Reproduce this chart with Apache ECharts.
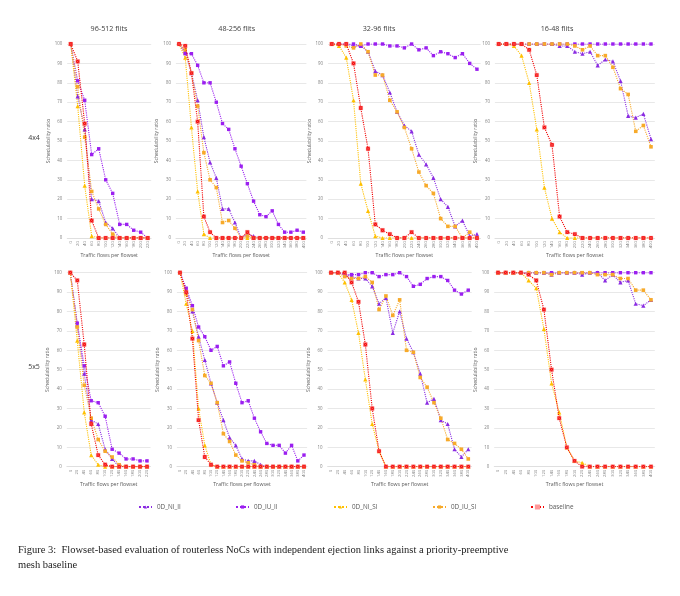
<!DOCTYPE html>
<html>
<head>
<meta charset="utf-8">
<script src="https://cdn.jsdelivr.net/npm/echarts@6/dist/echarts.min.js"></script>
<style>
  html, body { margin: 0; padding: 0; background: #fff; }
  #chart { width: 680px; height: 596px; }
</style>
</head>
<body>
<div id="chart"></div>
<script>
// --- x categories (traffic flows per flowset) ---
var flowsShort = ['0', '20', '40', '60', '80', '100', '120', '140', '160', '180', '200', '220'];
var flowsLong = ['0', '20', '40', '60', '80', '100', '120', '140', '160', '180', '200',
                 '220', '240', '260', '280', '300', '320', '340', '360', '380', '400'];

var seriesNames = ['0D_NI_II', '0D_IU_II', '0D_NI_SI', '0D_IU_SI', 'baseline'];
var colTitles = ['96-512 flits', '48-256 flits', '32-96 flits', '16-48 flits'];
var rowTitles = ['4x4', '5x5'];

// --- 4x4, 96-512 flits ---
var a1NiII = [100, 73, 56, 20, 19, 8, 5, 0, 0, 0, 0, 0];
var a1IuII = [100, 81, 71, 43, 46, 30, 23, 7, 7, 4, 3, 0];
var a1NiSI = [100, 68, 27, 1, 0, 0, 0, 0, 0, 0, 0, 0];
var a1IuSI = [100, 78, 52, 24, 15, 7, 2, 0, 0, 0, 0, 0];
var a1Base = [100, 91, 59, 9, 0, 0, 0, 0, 0, 0, 0, 0];

// --- 4x4, 48-256 flits ---
var a2NiII = [100, 96, 85, 71, 52, 39, 31, 15, 15, 8, 0, 2, 1, 0, 0, 0, 0, 0, 0, 0, 0];
var a2IuII = [100, 95, 95, 89, 80, 80, 70, 59, 56, 46, 37, 28, 19, 12, 11, 14, 7, 3, 3, 4, 3];
var a2NiSI = [100, 93, 57, 24, 2, 0, 0, 0, 0, 0, 0, 0, 0, 0, 0, 0, 0, 0, 0, 0, 0];
var a2IuSI = [100, 97, 85, 68, 44, 30, 26, 8, 9, 5, 0, 1, 0, 0, 0, 0, 0, 0, 0, 0, 0];
var a2Base = [100, 99, 85, 60, 11, 3, 0, 0, 0, 0, 0, 3, 0, 0, 0, 0, 0, 0, 0, 0, 0];

// --- 4x4, 32-96 flits ---
var a3NiII = [100, 100, 100, 99, 99, 96, 86, 84, 75, 65, 58, 55, 43, 38, 31, 20, 16, 6, 9, 1, 2];
var a3IuII = [100, 100, 100, 100, 99, 100, 100, 100, 99, 99, 98, 100, 97, 98, 94, 96, 95, 93, 95, 90, 87];
var a3NiSI = [100, 99, 93, 71, 28, 14, 1, 0, 0, 0, 0, 0, 0, 0, 0, 0, 0, 0, 0, 0, 0];
var a3IuSI = [100, 100, 99, 98, 100, 96, 84, 84, 71, 65, 57, 46, 34, 27, 23, 10, 6, 6, 0, 3, 0];
var a3Base = [100, 100, 100, 90, 67, 46, 7, 4, 2, 0, 0, 3, 0, 0, 0, 0, 0, 0, 0, 0, 0];

// --- 4x4, 16-48 flits ---
var a4NiII = [100, 100, 100, 100, 100, 100, 100, 100, 99, 99, 96, 95, 96, 89, 92, 91, 81, 63, 62, 64, 51];
var a4IuII = [100, 100, 100, 100, 100, 100, 100, 100, 100, 100, 100, 100, 100, 100, 100, 100, 100, 100, 100, 100, 100];
var a4NiSI = [100, 100, 99, 94, 80, 56, 26, 10, 3, 0, 0, 0, 0, 0, 0, 0, 0, 0, 0, 0, 0];
var a4IuSI = [100, 100, 100, 100, 100, 100, 100, 100, 100, 100, 99, 97, 99, 94, 94, 88, 77, 74, 55, 58, 47];
var a4Base = [100, 100, 100, 100, 97, 84, 57, 48, 11, 3, 2, 0, 0, 0, 0, 0, 0, 0, 0, 0, 0];

// --- 5x5, 96-512 flits ---
var b1NiII = [100, 73, 48, 24, 22, 9, 4, 0, 0, 0, 0, 0];
var b1IuII = [100, 74, 52, 34, 33, 26, 9, 7, 4, 4, 3, 3];
var b1NiSI = [100, 65, 28, 6, 1, 0, 0, 0, 0, 0, 0, 0];
var b1IuSI = [100, 72, 42, 25, 14, 8, 5, 1, 0, 0, 0, 0];
var b1Base = [100, 96, 63, 22, 6, 1, 0, 0, 0, 0, 0, 0];

// --- 5x5, 48-256 flits ---
var b2NiII = [100, 91, 80, 67, 55, 43, 33, 24, 15, 11, 4, 3, 3, 1, 0, 0, 0, 0, 0, 0, 0];
var b2IuII = [100, 92, 83, 72, 67, 60, 62, 52, 54, 43, 33, 34, 25, 18, 12, 11, 11, 7, 11, 3, 6];
var b2NiSI = [100, 84, 70, 30, 11, 1, 0, 0, 0, 0, 0, 0, 0, 0, 0, 0, 0, 0, 0, 0, 0];
var b2IuSI = [100, 89, 81, 65, 47, 43, 33, 17, 13, 6, 3, 2, 1, 0, 0, 0, 0, 0, 0, 0, 0];
var b2Base = [100, 90, 66, 24, 5, 1, 0, 0, 0, 0, 0, 0, 0, 0, 0, 0, 0, 0, 0, 0, 0];

// --- 5x5, 32-96 flits ---
var b3NiII = [100, 100, 99, 98, 97, 97, 93, 84, 87, 69, 80, 66, 59, 48, 33, 35, 24, 22, 9, 5, 9];
var b3IuII = [100, 100, 99, 99, 99, 100, 100, 98, 99, 99, 100, 98, 93, 94, 97, 98, 98, 96, 91, 89, 91];
var b3NiSI = [100, 100, 95, 86, 69, 45, 22, 8, 0, 0, 0, 0, 0, 0, 0, 0, 0, 0, 0, 0, 0];
var b3IuSI = [100, 100, 98, 97, 97, 98, 95, 81, 88, 78, 86, 60, 59, 46, 41, 33, 25, 14, 12, 9, 4];
var b3Base = [100, 100, 100, 95, 85, 63, 30, 8, 0, 0, 0, 0, 0, 0, 0, 0, 0, 0, 0, 0, 0];

// --- 5x5, 16-48 flits ---
var b4NiII = [100, 100, 100, 100, 100, 100, 100, 99, 100, 100, 100, 99, 100, 100, 96, 99, 95, 96, 84, 83, 86];
var b4IuII = [100, 100, 100, 100, 100, 100, 100, 100, 100, 100, 100, 100, 100, 100, 100, 100, 100, 100, 100, 100, 100];
var b4NiSI = [100, 100, 100, 100, 96, 92, 71, 43, 28, 10, 3, 2, 0, 0, 0, 0, 0, 0, 0, 0, 0];
var b4IuSI = [100, 100, 100, 100, 100, 100, 100, 99, 100, 100, 100, 100, 100, 99, 99, 99, 97, 97, 91, 91, 86];
var b4Base = [100, 100, 100, 100, 99, 96, 81, 50, 25, 10, 3, 0, 0, 0, 0, 0, 0, 0, 0, 0, 0];

var panels = [
  { cats: flowsShort, lines: [a1NiII, a1IuII, a1NiSI, a1IuSI, a1Base] },
  { cats: flowsLong,  lines: [a2NiII, a2IuII, a2NiSI, a2IuSI, a2Base] },
  { cats: flowsLong,  lines: [a3NiII, a3IuII, a3NiSI, a3IuSI, a3Base] },
  { cats: flowsLong,  lines: [a4NiII, a4IuII, a4NiSI, a4IuSI, a4Base] },
  { cats: flowsShort, lines: [b1NiII, b1IuII, b1NiSI, b1IuSI, b1Base] },
  { cats: flowsLong,  lines: [b2NiII, b2IuII, b2NiSI, b2IuSI, b2Base] },
  { cats: flowsLong,  lines: [b3NiII, b3IuII, b3NiSI, b3IuSI, b3Base] },
  { cats: flowsLong,  lines: [b4NiII, b4IuII, b4NiSI, b4IuSI, b4Base] }
];

// grid boxes, px: left, top, width
var boxes = [
  [67.2, 44, 84], [175.9, 44, 130.5], [328.1, 44, 152.5], [494.9, 44, 159.9],
  [66.8, 272.7, 83.7], [176.9, 272.7, 130.2], [327.6, 272.7, 144.1], [494.2, 272.7, 160.6]
];
var boxH = 194;

var crossBox = 'path://M0,0H10V10H0Z M1.5,1.5L8.5,8.5 M8.5,1.5L1.5,8.5';
var looks = [
  { color: '#8a2be2', symbol: 'triangle', size: 4.2 },
  { color: '#9b1ff0', symbol: 'rect', size: 3.4 },
  { color: '#ffc000', symbol: 'triangle', size: 4.2 },
  { color: '#f7aa2a', symbol: 'rect', size: 3.6 },
  { color: '#f20000', symbol: crossBox, size: 3.8 }
];

var font = '"Open Sans", "Liberation Sans", sans-serif';
var labelGrey = '#7f7f7f';
var gridGrey = '#d9d9d9';

var grids = [], xAxes = [], yAxes = [], series = [];
panels.forEach(function(p, i) {
  var b = boxes[i];
  grids.push({ left: b[0], top: b[1], width: b[2], height: boxH, containLabel: false });
  xAxes.push({
    gridIndex: i,
    type: 'category',
    data: p.cats,
    boundaryGap: true,
    name: 'Traffic flows per flowset',
    nameLocation: 'middle',
    nameGap: 15,
    nameTextStyle: { fontSize: 5.2, color: '#595959', fontFamily: font },
    axisLine: { lineStyle: { color: gridGrey, width: 0.6 } },
    axisTick: { show: false },
    axisLabel: { rotate: 90, interval: 0, fontSize: 4.3, margin: 3, color: labelGrey, fontFamily: font }
  });
  yAxes.push({
    gridIndex: i,
    type: 'value',
    min: 0,
    max: 100,
    interval: 10,
    name: 'Schedulability ratio',
    nameLocation: 'middle',
    nameGap: 13,
    nameTextStyle: { fontSize: 5, color: '#595959', fontFamily: font },
    axisLine: { show: false },
    axisTick: { show: false },
    axisLabel: { fontSize: 4.4, margin: 5, color: labelGrey, fontFamily: font },
    splitLine: { lineStyle: { color: gridGrey, width: 0.6 } }
  });
  p.lines.forEach(function(vals, k) {
    var lk = looks[k];
    series.push({
      name: seriesNames[k],
      type: 'line',
      xAxisIndex: i,
      yAxisIndex: i,
      data: vals,
      symbol: lk.symbol,
      symbolSize: lk.size,
      showAllSymbol: true,
      z: k === 4 ? 3 : 2,
      lineStyle: { type: 'dotted', width: 1.1, color: lk.color },
      itemStyle: k === 4 ? { color: lk.color, borderColor: '#ff9a9a', borderWidth: 0.4 } : { color: lk.color },
      emphasis: { disabled: true }
    });
  });
});

var legendX = [138, 235, 333, 432, 530];
var legends = seriesNames.map(function(n, k) {
  return {
    data: [n],
    left: legendX[k],
    top: 504,
    itemWidth: 13,
    itemHeight: 4,
    itemGap: 4,
    padding: 0,
    textStyle: { fontSize: 6.3, color: '#595959', fontFamily: font }
  };
});

var graphics = [];
var titleX = [109, 236.7, 379, 557];
colTitles.forEach(function(t, i) {
  graphics.push({ type: 'text', x: titleX[i], y: 29,
    style: { text: t, fontSize: 7.2, fontFamily: font, fill: '#404040', align: 'center', verticalAlign: 'middle' } });
});
var rowY = [138, 367];
rowTitles.forEach(function(t, i) {
  graphics.push({ type: 'text', x: 34, y: rowY[i],
    style: { text: t, fontSize: 7, fontFamily: font, fill: '#404040', align: 'center', verticalAlign: 'middle' } });
});
graphics.push({ type: 'text', x: 18, y: 550,
  style: { text: 'Figure 3:  Flowset-based evaluation of routerless NoCs with independent ejection links against a priority-preemptive',
    fontSize: 10.5, fontFamily: '"Liberation Serif", "DejaVu Serif", serif', fill: '#222', verticalAlign: 'middle' } });
graphics.push({ type: 'text', x: 18, y: 565,
  style: { text: 'mesh baseline',
    fontSize: 10.5, fontFamily: '"Liberation Serif", "DejaVu Serif", serif', fill: '#222', verticalAlign: 'middle' } });

var chart = echarts.init(document.getElementById('chart'));
chart.setOption({
  animation: false,
  backgroundColor: '#fff',
  grid: grids,
  xAxis: xAxes,
  yAxis: yAxes,
  legend: legends,
  series: series,
  graphic: graphics
});
</script>
</body>
</html>
